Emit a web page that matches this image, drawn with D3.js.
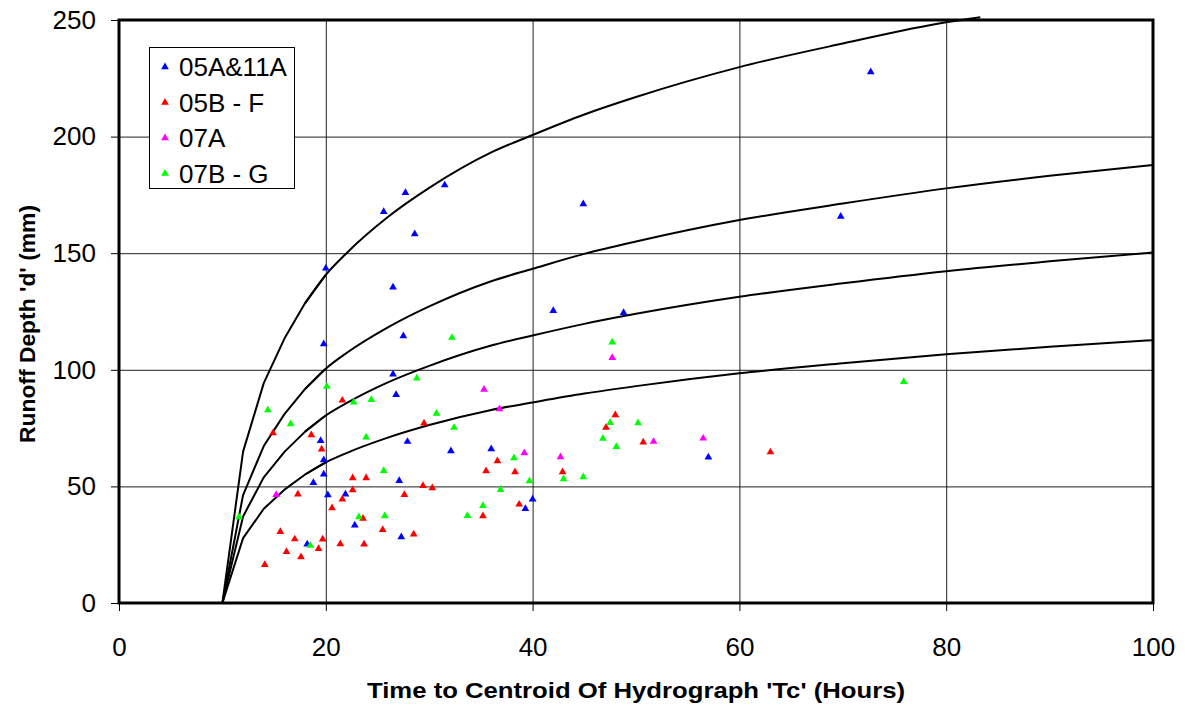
<!DOCTYPE html>
<html>
<head>
<meta charset="utf-8">
<script src="https://cdn.jsdelivr.net/npm/d3@7"></script>
<style>
  body { margin: 0; background: #fff; }
  svg { display: block; font-family: "Liberation Sans", Arial, sans-serif; }
</style>
</head>
<body>
<script>
// Observed events, [Tc hours, runoff depth mm], one array per catchment group.
var series05A11A = [
    [27.7, 175.9], [25.6, 167.8], [31.5, 179.2], [28.6, 158.2], [20.0, 143.5],
    [26.5, 135.4], [27.5, 114.5], [19.8, 111.1], [26.5, 98.1], [26.8, 89.3],
    [19.5, 69.6], [27.9, 69.2], [32.1, 65.2], [19.8, 61.3], [19.8, 55.2],
    [27.1, 52.4], [18.8, 51.6], [20.2, 46.3], [21.9, 46.6], [22.8, 33.3],
    [27.3, 28.3], [18.2, 25.2], [42.0, 125.3], [48.8, 124.5], [57.0, 62.5],
    [36.0, 66.0], [40.0, 44.5], [39.3, 40.4], [72.7, 227.7], [44.9, 171.1],
    [69.8, 165.7]
];
var series05BF = [
    [21.6, 86.9], [29.5, 77.1], [14.9, 72.9], [18.6, 72.0], [19.6, 65.9],
    [22.6, 53.6], [23.9, 53.6], [29.4, 50.3], [30.3, 49.3], [22.6, 48.5],
    [17.3, 46.6], [21.6, 44.5], [27.6, 46.4], [20.6, 40.7], [23.6, 36.2],
    [25.5, 31.4], [28.5, 29.5], [15.6, 30.6], [17.0, 27.4], [19.7, 27.3],
    [21.4, 25.3], [23.7, 25.2], [19.3, 23.3], [16.2, 22.0], [17.6, 19.7],
    [14.1, 16.4], [48.0, 80.6], [47.1, 75.3], [50.7, 68.9], [36.6, 60.9],
    [35.5, 56.6], [38.3, 56.2], [42.9, 56.2], [38.7, 42.3], [35.2, 37.3],
    [63.0, 64.7]
];
var series07A = [
    [15.2, 46.4], [47.7, 105.2], [35.3, 91.6], [36.8, 83.2], [51.7, 69.2],
    [56.5, 70.6], [39.2, 64.3], [42.7, 62.6]
];
var series07BG = [
    [20.1, 92.8], [28.8, 96.4], [32.2, 113.8], [22.7, 86.1], [24.4, 87.2],
    [14.4, 82.8], [30.7, 81.3], [16.6, 76.8], [23.9, 71.1], [25.6, 56.7],
    [23.2, 36.9], [25.7, 37.3], [18.5, 24.6], [11.6, 36.9], [47.7, 111.8],
    [32.4, 75.2], [47.5, 77.3], [50.2, 77.2], [46.8, 70.5], [48.1, 67.0],
    [38.2, 62.2], [43.0, 53.2], [44.9, 54.0], [39.7, 52.3], [36.9, 48.6],
    [35.2, 41.7], [33.7, 37.4], [75.9, 94.9]
];

// Envelope curves (Tc hours vs depth mm).
var curveT = [10, 12, 14, 16, 18, 20, 22, 26, 30, 36, 40, 45, 50, 60, 70, 80, 90, 100];
var curveLow = [0, 27.8, 40.4, 48.6, 55.1, 60.3, 64.3, 70.9, 76.3, 82.8, 86.0, 89.8, 93.0, 98.5, 102.8, 106.7, 109.9, 112.7];
var curveMid = [0, 37.1, 53.9, 64.8, 73.5, 80.4, 85.7, 94.6, 101.7, 110.4, 114.7, 119.7, 124.0, 131.3, 137.1, 142.3, 146.5, 150.3];
var curveHigh = [0, 46.3, 67.3, 81.0, 91.8, 100.5, 107.2, 118.2, 127.2, 138.0, 143.3, 149.7, 155.0, 164.2, 171.3, 177.8, 183.2, 187.8];
var curveTopT = [10, 12, 14, 16, 18, 20, 22, 26, 30, 36, 40, 45, 50, 60, 70, 80, 83.3];
var curveTop = [0, 64.9, 94.3, 113.4, 128.6, 140.7, 150.0, 165.5, 178.0, 193.2, 200.7, 209.5, 217.0, 229.8, 239.9, 249.0, 251.2];

var legendLabels = ["05A&11A", "05B - F", "07A", "07B - G"];
var legendColors = ["#0000ff", "#ff0000", "#ff00ff", "#00ff00"];

var xTicks = [0, 20, 40, 60, 80, 100];
var yTicks = [0, 50, 100, 150, 200, 250];

// Plot frame.
var plotLeft = 119, plotRight = 1153, plotTop = 20, plotBottom = 603;

var xScale = d3.scaleLinear().domain([0, 100]).range([plotLeft, plotRight]);
var yScale = d3.scaleLinear().domain([0, 250]).range([plotBottom, plotTop]);

var svg = d3.select("body").append("svg")
            .attr("width", 1185)
            .attr("height", 709);

// Gridlines.
svg.append("g")
   .attr("transform", "translate(0," + plotBottom + ")")
   .call(d3.axisBottom(xScale).tickValues(xTicks).tickSize(-(plotBottom - plotTop)).tickFormat(""));
svg.append("g")
   .attr("transform", "translate(" + plotLeft + ",0)")
   .call(d3.axisLeft(yScale).tickValues(yTicks).tickSize(-(plotRight - plotLeft)).tickFormat(""));
svg.selectAll(".domain").remove();
svg.selectAll(".tick line").attr("stroke", "#202020").attr("stroke-width", 1);

// Curves: straight segments near the origin (as plotted), smooth after 20 h.
var lineStraight = d3.line()
             .x(function (d) { return xScale(d[0]); })
             .y(function (d) { return yScale(d[1]); });
var lineSmooth = d3.line()
             .x(function (d) { return xScale(d[0]); })
             .y(function (d) { return yScale(d[1]); })
             .curve(d3.curveMonotoneX);

var curves = [
    d3.zip(curveT, curveLow),
    d3.zip(curveT, curveMid),
    d3.zip(curveT, curveHigh),
    d3.zip(curveTopT, curveTop)
];
var curveG = svg.append("g")
   .attr("fill", "none")
   .attr("stroke", "#000")
   .attr("stroke-width", 2)
   .attr("stroke-linejoin", "round");
curves.forEach(function (c) {
    curveG.append("path").attr("d", lineStraight(c.filter(function (d) { return d[0] <= 20; })));
    curveG.append("path").attr("d", lineSmooth(c.filter(function (d) { return d[0] >= 18; })));
});

// Points.
var tri = d3.symbol().type(d3.symbolTriangle).size(26);
var allSeries = [series05A11A, series05BF, series07A, series07BG];
allSeries.forEach(function (s, i) {
    svg.append("g").selectAll("path")
       .data(s)
       .enter().append("path")
       .attr("d", tri)
       .attr("fill", legendColors[i])
       .attr("transform", function (d) { return "translate(" + xScale(d[0]) + "," + yScale(d[1]) + ")"; });
});

// Legend.
var legend = svg.append("g").attr("class", "legend");
legend.append("rect")
      .attr("x", 149.5).attr("y", 47.5)
      .attr("width", 145).attr("height", 141)
      .attr("fill", "#fff").attr("stroke", "#000").attr("stroke-width", 1);
var items = legend.selectAll(".item")
      .data(legendLabels)
      .enter().append("g")
      .attr("transform", function (d, i) { return "translate(165," + (67 + i * 35.5) + ")"; });
items.append("path")
     .attr("d", tri)
     .attr("fill", function (d, i) { return legendColors[i]; });
items.append("text")
     .attr("x", 14)
     .attr("dy", "0.36em")
     .style("font-size", "26px")
     .text(function (d) { return d; });

// Plot border.
svg.append("rect")
   .attr("x", plotLeft).attr("y", plotTop)
   .attr("width", plotRight - plotLeft).attr("height", plotBottom - plotTop)
   .attr("fill", "none").attr("stroke", "#000").attr("stroke-width", 3);

// Axes.
var xAxis = svg.append("g")
   .attr("transform", "translate(0," + plotBottom + ")")
   .call(d3.axisBottom(xScale).tickValues(xTicks).tickSize(8).tickPadding(27).tickSizeOuter(0));
var yAxis = svg.append("g")
   .attr("transform", "translate(" + plotLeft + ",0)")
   .call(d3.axisLeft(yScale).tickValues(yTicks).tickSize(8).tickPadding(15).tickSizeOuter(0));
[xAxis, yAxis].forEach(function (a) {
    a.select(".domain").remove();
    a.selectAll(".tick line").attr("stroke", "#000");
    a.selectAll(".tick text")
     .attr("fill", "#000")
     .style("font-family", "'Liberation Sans', Arial, sans-serif")
     .style("font-size", "26px");
});

// Axis titles (the originals are drawn a little wide, hence textLength).
svg.append("text")
   .attr("x", 636).attr("y", 698)
   .attr("text-anchor", "middle")
   .attr("textLength", 538).attr("lengthAdjust", "spacingAndGlyphs")
   .style("font-size", "22px").style("font-weight", "bold")
   .text("Time to Centroid Of Hydrograph 'Tc' (Hours)");

svg.append("text")
   .attr("transform", "translate(35,324) rotate(-90)")
   .attr("text-anchor", "middle")
   .attr("textLength", 238).attr("lengthAdjust", "spacingAndGlyphs")
   .style("font-size", "22px").style("font-weight", "bold")
   .text("Runoff Depth 'd' (mm)");
</script>
</body>
</html>
